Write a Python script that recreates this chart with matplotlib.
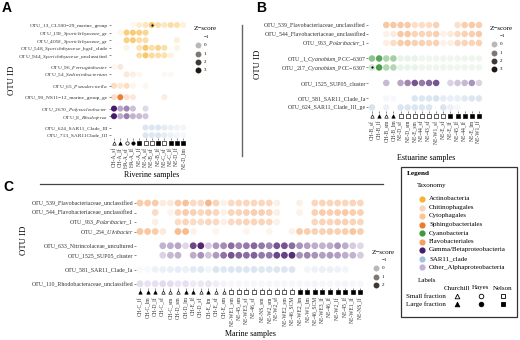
"""
Three dot-matrix panels (riverine / estuarine / marine OTU z-scores)
with a shared taxonomy + sample-type legend.
"""

import numpy as np
import matplotlib
matplotlib.use("Agg")
import matplotlib.pyplot as plt
from matplotlib.colors import to_rgba
from matplotlib.patches import Rectangle

plt.rcParams["font.family"] = ["Liberation Serif", "DejaVu Sans"]
plt.rcParams["mathtext.fontset"] = "custom"
plt.rcParams["mathtext.rm"] = "Liberation Serif"
plt.rcParams["mathtext.it"] = "Liberation Serif:italic"

nan = np.nan
MINUS = "\u2212"

# ------------------------------------------------------------------
# Taxonomy
# ------------------------------------------------------------------
TAXA = ["Actinobacteria", "Chitinophagales", "Cytophagales", "Sphingobacteriales",
        "Cyanobacteria", "Flavobacteriales", "Gamma/Betaproteobacteria",
        "SAR11_clade", "Other_Alphaproteobacteria"]
TAXA_COLORS = {
    "Actinobacteria": "#F7B334",
    "Chitinophagales": "#FAD3BC",
    "Cytophagales": "#FCC590",
    "Sphingobacteriales": "#EE7A2E",
    "Cyanobacteria": "#3C9A3C",
    "Flavobacteriales": "#F4A163",
    "Gamma/Betaproteobacteria": "#4A1B6C",
    "SAR11_clade": "#A6C1DC",
    "Other_Alphaproteobacteria": "#C2B1D9",
}
SITE_MARKERS = {"CH": "^", "HA": "o", "NE": "s"}

# ------------------------------------------------------------------
# Panel A: riverine samples
# ------------------------------------------------------------------
A_otus = ["OTU_13_CL500" + MINUS + "29_marine_group", "OTU_159_$\\mathit{Sporichthyaceae}$_gr",
          "OTU_4092_$\\mathit{Sporichthyaceae}$_gr", "OTU_548_$\\mathit{Sporichthyaceae}$_hgcI_clade",
          "OTU_944_$\\mathit{Sporichthyaceae}$_unclassified",
          "OTU_96_$\\mathit{Ferruginibacter}$", "OTU_54_$\\mathit{Sediminibacterium}$",
          "OTU_65_$\\mathit{Pseudarcicella}$", "OTU_99_NS11" + MINUS + "12_marine_group_ge",
          "OTU_2670_$\\mathit{Polynucleobacter}$", "OTU_8_$\\mathit{Rhodoferax}$",
          "OTU_624_SAR11_Clade_III", "OTU_713_SAR11Clade_III"]
A_taxa = ["Actinobacteria"] * 5 + ["Chitinophagales"] * 2 + ["Cytophagales", "Sphingobacteriales"] \
    + ["Gamma/Betaproteobacteria"] * 2 + ["SAR11_clade"] * 2
A_groups = [5, 2, 1, 1, 2, 2]
A_samples = ["CH-A_sf", "CH-A_lf", "HA-A_sf", "HA-A_lf", "NE-A_lf", "NE-A_sf",
             "NE-B_sf", "NE-B_lf", "NE-C_sf", "NE-C_lf", "NE-D_lf", "NE-D_lm"]
A_fraction = ["s", "l", "s", "l", "l", "s", "s", "l", "s", "l", "l", "l"]
A_z = [
    [nan, nan, nan, -0.8, -0.3, 0.0, 1.5, 0.3, 0.0, 0.5, 0.3, -0.5],
    [nan, -0.7, 1.2, 1.4, 1.1, 0.8, nan, nan, nan, nan, nan, nan],
    [nan, nan, 1.1, 1.3, 0.5, 0.4, nan, nan, nan, nan, -0.4, nan],
    [nan, nan, -0.6, nan, 0.2, 1.5, 0.4, 0.9, 0.4, nan, -0.6, nan],
    [nan, nan, nan, nan, 0.4, 1.5, 0.6, 0.4, 0.3, -0.5, nan, nan],
    [-0.6, 0.8, nan, nan, nan, nan, nan, nan, nan, nan, nan, nan],
    [nan, nan, 0.8, 0.3, -0.4, nan, nan, nan, -0.6, -0.6, nan, nan],
    [1.0, 0.3, 0.9, -0.5, nan, -0.6, nan, nan, nan, nan, nan, nan],
    [-0.2, 2.4, -0.3, -0.5, nan, nan, nan, nan, -0.6, nan, nan, nan],
    [3.0, 0.3, 0.8, -0.1, nan, -0.5, nan, nan, nan, nan, nan, nan],
    [2.6, 0.2, 0.9, 0.1, 0.0, -0.2, nan, nan, nan, nan, nan, nan],
    [nan, nan, nan, nan, nan, 0.3, 0.3, 0.3, 0.0, -0.3, -0.5, -0.6],
    [nan, nan, nan, nan, nan, 0.3, 0.2, 0.3, -0.1, -0.4, -0.6, -0.7],
]
A_star = (0, 6)

# ------------------------------------------------------------------
# Panel B: estuarine samples
# ------------------------------------------------------------------
B_otus = ["OTU_539_Flavobacteriaceae_unclassified", "OTU_544_Flavobacteriaceae_unclassified",
          "OTU_963_$\\mathit{Polaribacter}$_1", "OTU_1_$\\mathit{Cyanobium}$_PCC" + MINUS + "6307",
          "OTU_217_$\\mathit{Cyanobium}$_PCC" + MINUS + "6307", "OTU_1525_SUP05_cluster",
          "OTU_581_SAR11_Clade_Ia", "OTU_624_SAR11_Clade_III_ge"]
B_taxa = ["Flavobacteriales"] * 3 + ["Cyanobacteria"] * 2 + ["Gamma/Betaproteobacteria"] \
    + ["SAR11_clade"] * 2
B_groups = [3, 2, 1, 2]
B_samples = ["CH-B_sf", "CH-B_lf", "CH-B_sm", "CH-B_lm", "NE-D_sf", "NE-D_sm", "NE-E_sm",
             "NE-44_sf", "NE-43_sf", "NE-W1_sf", "NE-E_sf", "NE-E_lf", "NE-45_lf",
             "NE-44_lf", "NE-E_lm", "NE-W1_lf"]
B_fraction = ["s", "l", "s", "l"] + ["s"] * 7 + ["l"] * 5
B_z = [
    [nan, nan, 1.0, 1.0, 1.0, 0.9, 0.1, 0.2, 0.2, 0.6, nan, nan, 0.1, 0.7, 0.9, 0.7],
    [nan, nan, -0.6, -0.4, 1.0, 1.0, 0.5, 0.5, 0.5, 0.7, -0.6, -0.3, 0.3, 0.6, 0.7, 0.9],
    [nan, nan, -0.5, 0.2, 0.8, 0.9, 0.6, 0.6, 0.5, 0.6, -0.6, -0.5, 0.4, 0.5, 0.5, 0.6],
    [1.0, 2.0, 0.4, 0.6, -0.7, -0.7, -0.7, -0.8, -0.8, -0.8, -0.8, -0.8, -0.8, -0.8, -0.8, -0.8],
    [-0.2, 2.3, 0.3, 0.3, -0.7, -0.7, -0.7, -0.8, -0.8, -0.8, -0.8, -0.8, -0.8, -0.8, -0.8, -0.8],
    [nan, nan, 0.0, nan, 0.3, 0.8, 1.6, 1.0, 1.3, 1.6, nan, -0.4, -0.2, 0.0, 0.6, -0.4],
    [nan, nan, -0.7, -0.8, nan, nan, 0.3, 0.3, 0.3, 0.5, -0.1, -0.2, -0.2, 0.1, 0.3, 0.3],
    [0.5, nan, -0.4, nan, 0.3, 0.3, 0.3, 0.3, 0.3, nan, 0.4, -0.3, -0.7, nan, nan, nan],
]
B_star = (4, 0)

# ------------------------------------------------------------------
# Panel C: marine samples
# ------------------------------------------------------------------
C_otus = ["OTU_539_Flavobacteriaceae_unclassified", "OTU_544_Flavobacteriaceae_unclassified",
          "OTU_963_$\\mathit{Polaribacter}$_1", "OTU_254_$\\mathit{Ulvibacter}$",
          "OTU_633_Nitrincolaceae_uncultured", "OTU_1525_SUP05_cluster",
          "OTU_581_SAR11_Clade_Ia", "OTU_110_Rhodobacteraceae_unclassified"]
C_taxa = ["Flavobacteriales"] * 4 + ["Gamma/Betaproteobacteria"] * 2 \
    + ["SAR11_clade", "Other_Alphaproteobacteria"]
C_groups = [4, 2, 1, 1]
C_samples = ["CH-C_lf", "CH-C_lm", "CH-D_lf", "CH-C_sf", "CH-C_sm", "CH-D_sm",
             "CH-D_lm", "CH-E_lf", "CH-D_sf", "CH-E_lm", "CH-E_sf", "CH-E_sm",
             "NE-WE1_sm", "NE-45_sm", "NE-WE3_sf", "NE-46_sf", "NE-NS_sm", "NE-W2_sm",
             "NE-W2_sf", "NE-WE2_sm", "NE-46_SCM",
             "NE-WE2_lm", "NE-W1_lm", "NE-46_SCM", "NE-WE3_lf", "NE-46_lf", "NE-W2_lf",
             "NE-45_lf", "NE-WE1_lf", "NE-NS_lf"]
C_fraction = ["l", "l", "l", "s", "s", "s", "l", "l", "s", "l", "s", "s"] + ["s"] * 9 + ["l"] * 9
C_z = [
    [0.8, 0.8, 0.8, -0.4, -0.3, 0.8, 1.2, 0.3, 0.3, 1.6, 0.5, -0.6, 0.3, 0.4, 0.4,
     0.4, 0.4, 0.4, -0.5, nan, nan, -0.5, nan, 0.4, 0.5, 0.5, 0.5, 0.4, 0.5, 0.4],
    [nan, nan, 0.2, nan, -0.7, 0.5, 0.8, 0.6, 0.4, 0.6, 0.4, -0.6, 0.5, 0.5, 0.6,
     0.7, 0.7, 0.5, -0.5, nan, nan, -0.6, nan, 0.6, 0.8, 0.7, 0.8, 0.9, 0.7, 0.6],
    [nan, nan, -0.5, nan, nan, 0.2, 0.5, 0.2, 0.2, 0.4, 0.3, -0.5, 0.3, 0.4, 0.5,
     0.5, 0.5, 0.4, -0.6, nan, nan, nan, nan, 0.4, 0.5, 0.5, 0.6, 0.6, 0.5, 0.4],
    [1.0, 1.0, 0.8, -0.3, nan, 1.4, 1.5, -0.6, nan, nan, -0.7, nan, nan, nan, -0.7,
     nan, nan, -0.7, nan, nan, -0.6, 0.9, 0.7, 0.6, 0.6, 0.7, 0.6, 0.7, 1.1, 0.7],
    [nan, nan, nan, 0.1, 0.2, 0.3, -0.5, 1.8, 2.3, -0.3, 0.5, 0.7, 1.2, 0.8, 1.0,
     1.3, 1.0, 0.8, 1.6, 1.6, 1.2, 0.6, 0.4, 0.2, 0.1, 0.2, 0.6, 0.2, -0.3, -0.5],
    [nan, nan, nan, -0.4, 0.0, 0.1, nan, 0.2, 0.6, -0.2, 0.5, 1.1, 1.6, 1.3, 1.2,
     1.4, 1.0, 1.0, 1.8, 1.9, 2.2, 0.6, 0.8, 0.6, 0.4, 0.5, 0.4, 0.2, 0.1, -0.3],
    [-0.8, -0.8, -0.4, -0.3, -0.2, -0.1, -0.3, 0.0, 0.1, -0.6, 0.4, 0.2, 0.3, 0.3, 0.3,
     0.3, 0.2, 0.2, 0.3, 0.3, 0.3, nan, -0.6, -0.4, -0.3, -0.3, -0.4, -0.6, nan, nan],
    [0.4, 0.2, 0.3, 0.6, 0.5, 0.1, 0.3, -0.2, 0.0, 0.1, -0.3, -0.6, -0.7, -0.7, -0.7,
     -0.7, -0.7, -0.7, -0.7, -0.7, -0.7, -0.7, -0.7, -0.6, -0.7, -0.7, -0.7, -0.6, -0.7, -0.7],
]
C_star = None

# ------------------------------------------------------------------
# Layout helpers (pixel space, 520 x 340)
# ------------------------------------------------------------------
W, H = 520, 340
fig = plt.figure(figsize=(W / 100, H / 100), dpi=100)


def px_axes(left, top, right, bottom, **kw):
    return fig.add_axes([left / W, 1 - bottom / H, (right - left) / W, (bottom - top) / H], **kw)


def z_alpha(z):
    return np.clip((np.asarray(z, float) + 1.1) / 3.6, 0.05, 1)


def row_positions(groups, gap):
    pos, p = [], 0.0
    for g in groups:
        for _ in range(g):
            pos.append(p)
            p += 1
        p += gap
    return pos


def draw_panel(otus, taxa, groups, samples, fraction, z, star,
               x0, dx, y0, dy, gap, size, yfont):
    pos = row_positions(groups, gap)
    ncol = len(samples)
    last = pos[-1]
    ax = px_axes(x0 - 0.5 * dx, y0 - 0.6 * dy, x0 + (ncol - 0.5) * dx, y0 + (last + 0.4) * dy)
    ax.set_xlim(-0.5, ncol - 0.5)
    ax.set_ylim(last + 0.4, -0.6)
    cols = np.arange(ncol)

    for p, t, row in zip(pos, taxa, z):
        row = np.asarray(row, float)
        m = ~np.isnan(row)
        colors = [to_rgba(TAXA_COLORS[t], a) for a in z_alpha(row[m])]
        ax.scatter(cols[m], np.full(m.sum(), p), s=size, c=colors, linewidths=0)
    if star is not None:
        r, c = star
        ax.scatter([c], [pos[r]], s=2.5, c="k", linewidths=0, zorder=3)

    # sample-type symbols just under the dot matrix
    ym = last + 0.4 + 4.5 / dy
    for site, mk in SITE_MARKERS.items():
        for fr in "sl":
            idx = [i for i, (s, f) in enumerate(zip(samples, fraction))
                   if s.startswith(site) and f == fr]
            if idx:
                ax.scatter(idx, [ym] * len(idx), marker=mk, s=6,
                           facecolor="k" if fr == "l" else "white",
                           edgecolor="k", linewidths=0.45, clip_on=False)

    ax.set_xticks(cols)
    ax.set_xticklabels(samples, rotation=90, fontsize=4)
    ax.set_yticks(pos)
    ax.set_yticklabels(otus, fontsize=yfont)
    ax.tick_params(axis="x", length=1.1, width=0.4, pad=5.2, colors="#333333")
    ax.tick_params(axis="y", length=1.1, width=0.4, pad=0.8, colors="#333333")
    for s in ax.spines.values():
        s.set_visible(False)
    return ax


draw_panel(A_otus, A_taxa, A_groups, A_samples, A_fraction, A_z, A_star,
           x0=114, dx=6.3, y0=25, dy=7.6, gap=0.5, size=19, yfont=3.9)
draw_panel(B_otus, B_taxa, B_groups, B_samples, B_fraction, B_z, B_star,
           x0=372, dx=7.13, y0=25, dy=9.0, gap=0.72, size=22, yfont=4.2)
draw_panel(C_otus, C_taxa, C_groups, C_samples, C_fraction, C_z, C_star,
           x0=140, dx=7.6, y0=203, dy=9.5, gap=0.5, size=24, yfont=4.2)

# ------------------------------------------------------------------
# Overlay: titles, dividers, legends
# ------------------------------------------------------------------
ov = px_axes(0, 0, W, H, zorder=-1)
ov.set_xlim(0, W)
ov.set_ylim(H, 0)
ov.axis("off")

for letter, (x, y) in {"A": (2, 8), "B": (256, 8), "C": (3, 187)}.items():
    ov.text(x, y, letter, fontsize=10, fontweight="bold", family="Liberation Sans", va="center")

for x, y in [(12, 80), (258, 64), (24, 240)]:
    ov.text(x, y, "OTU ID", fontsize=6.3, rotation=90, ha="center", va="center")

for x, y, s in [(152, 175, "Riverine samples"), (426, 158, "Estuarine samples"),
                (250, 334, "Marine samples")]:
    ov.text(x, y, s, fontsize=5.8, ha="center", va="center")

ov.plot([242, 242], [25, 156], color="#666666", lw=1)
ov.plot([40, 383], [184, 184], color="#444444", lw=0.9)

Z_BASE = "#201814"


def zscore_legend(xc, ytitle, levels):
    ov.text(xc - 4, ytitle, "Z" + MINUS + "score", fontsize=5, va="center")
    for k, lv in enumerate(levels):
        y = ytitle + 8 + 8.3 * k
        if lv > -1:
            ov.scatter([xc], [y], s=18, c=[to_rgba(Z_BASE, z_alpha(lv))], linewidths=0)
        ov.text(xc + 6, y, f"{lv}".replace("-", MINUS), fontsize=3.6, va="center")


zscore_legend(198, 29, [-1, 0, 1, 2, 3])
zscore_legend(494, 28, [-1, 0, 1, 2, 3])
zscore_legend(376, 252, [-1, 0, 1, 2])

# taxonomy + labels legend box
ov.add_patch(Rectangle((401, 167), 116, 150, fill=True, fc="white", ec="#333333", lw=0.9))
ov.text(407, 174, "Legend", fontsize=5.2, fontweight="bold", va="center")
ov.text(417, 185, "Taxonomy", fontsize=5, va="center")
for k, name in enumerate(TAXA):
    y = 199 + 8.5 * k
    ov.scatter([422], [y], s=20, c=TAXA_COLORS[name], linewidths=0)
    ov.text(429, y, name, fontsize=5, va="center")
ov.text(418, 280, "Labels", fontsize=5, va="center")
site_x = {"Churchill": 457, "Hayes": 481, "Nelson": 503}
for (name, x), mk in zip(site_x.items(), SITE_MARKERS.values()):
    ov.text(x, 288, name, fontsize=5, ha="center", va="center")
    ov.scatter([x], [296], marker=mk, s=11, facecolor="white", edgecolor="k", linewidths=0.6)
    ov.scatter([x], [304], marker=mk, s=11, facecolor="k", edgecolor="k", linewidths=0.6)
ov.text(406, 296, "Small fraction", fontsize=5, va="center")
ov.text(406, 304, "Large fraction", fontsize=5, va="center")

fig.savefig("out.png", dpi=100)
